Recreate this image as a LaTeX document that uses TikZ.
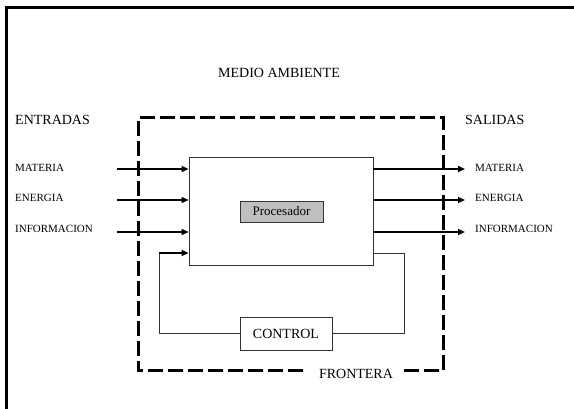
\documentclass[tikz,border=0pt]{standalone}
\usepackage{fontspec}
\setmainfont{Liberation Serif}
\usetikzlibrary{arrows.meta}
\tikzset{
  lbl/.style={inner sep=0pt, font=\fontsize{11}{12}\selectfont},
  head/.style={inner sep=0pt, font=\fontsize{14}{16}\selectfont},
  boxline/.style={draw=black!80, line width=0.9pt},
  thickarrow/.style={line width=2pt, -{Triangle[length=7pt,width=6pt]}},
  thinarrow/.style={line width=1.2pt, -{Triangle[length=7pt,width=6pt]}},
  frontline/.style={line width=3pt, dash pattern=on 15pt off 5pt},
  fbline/.style={draw=black!80, line width=0.9pt},
}
\begin{document}
\begin{tikzpicture}[x=1pt,y=-1pt]
\useasboundingbox (0,0) rectangle (574,409);
% outer frame
\draw[line width=3.5pt] (6.5,409) -- (6.5,7.5) -- (574,7.5);
% titles
\node[head] (medio) at (279,73) {MEDIO AMBIENTE};
\node[head, anchor=west] (entradas) at (15,120) {ENTRADAS};
\node[head, anchor=west] (salidas) at (465,120) {SALIDAS};
% processor
\node[boxline, minimum width=184pt, minimum height=108pt, inner sep=0pt] (proc) at (281,211) {};
\node[draw=black!80, line width=0.8pt, fill=black!25, minimum width=83pt, minimum height=21pt, inner sep=0pt,
      font=\fontsize{13}{15}\selectfont] (procesador) at (281.5,211.5) {Procesador};
% control
\node[boxline, fill=white, minimum width=92pt, minimum height=33pt, inner sep=0pt, font=\fontsize{14}{16}\selectfont] (ctrl) at (286,333.5) {CONTROL};
% frontera
\node[head] (frontera) at (356,374) {FRONTERA};
\coordinate (fbl) at (303,371);
\coordinate (fbr) at (403,371);
\draw[frontline] (fbl) -- (138,371) -- (138,118) -- (443,118) -- (443,371) -- (fbr);
% input labels and arrows
\node[lbl, anchor=west] (inMl) at (15,168) {MATERIA};
\node[lbl, anchor=west] (inEl) at (15,198) {ENERGIA};
\node[lbl, anchor=west] (inIl) at (15,229) {INFORMACION};
\coordinate (inM) at (117,169);
\coordinate (inE) at (117,200);
\coordinate (inI) at (117,232);
\draw[thickarrow] (inM) -- (inM -| proc.west);
\draw[thinarrow] (inE) -- (inE -| proc.west);
\draw[thickarrow] (inI) -- (inI -| proc.west);
% outputs
\coordinate (outM) at (465,169);
\coordinate (outE) at (465,200);
\coordinate (outI) at (465,232);
\draw[thickarrow] (outM -| proc.east) -- (outM);
\draw[thinarrow] (outE -| proc.east) -- (outE);
\draw[thickarrow] (outI -| proc.east) -- (outI);
\node[lbl, anchor=west] (outMl) at (475,168) {MATERIA};
\node[lbl, anchor=west] (outEl) at (475,198) {ENERGIA};
\node[lbl, anchor=west] (outIl) at (475,229) {INFORMACION};
% feedback loop
\coordinate (fbR) at (404,253);
\coordinate (fbL) at (159,253);
\draw[fbline] (fbR -| proc.east) -- (fbR) |- (ctrl.east);
\draw[fbline] (ctrl.west) -| (fbL);
\draw[thinarrow, line width=1.8pt] (fbL) -- (fbL -| proc.west);
\end{tikzpicture}
\end{document}
